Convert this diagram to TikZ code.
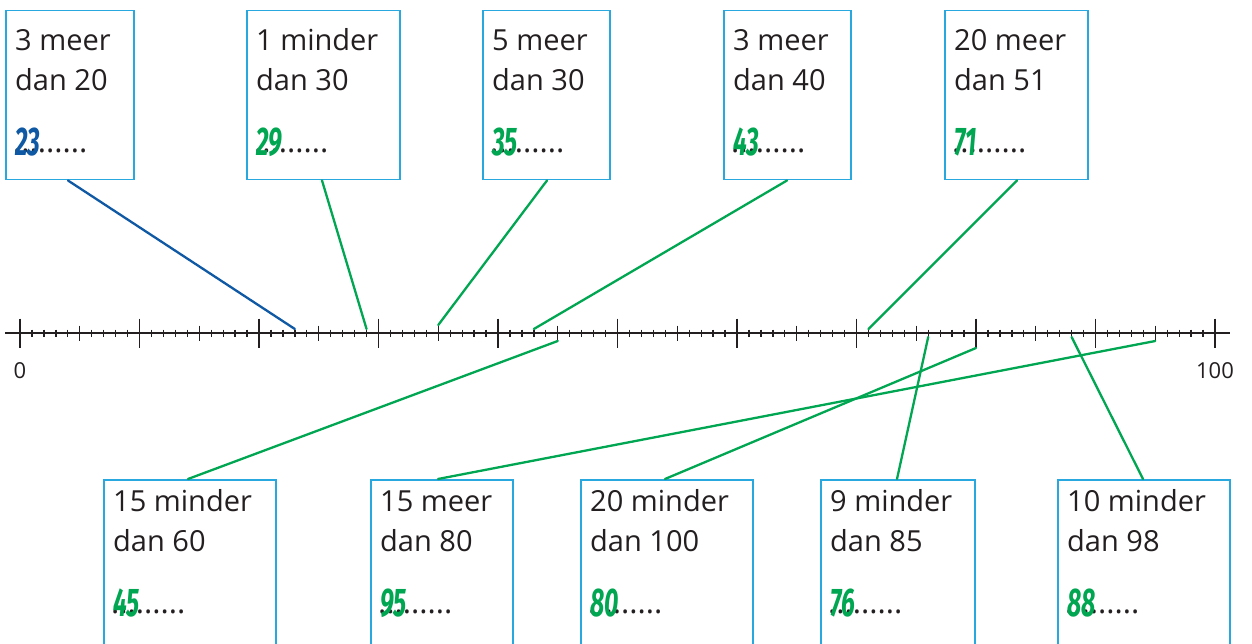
\documentclass[tikz,border=0pt]{standalone}
\usepackage{fontspec}
\setmainfont{Open Sans}
\newfontfamily\handfont{Fira Sans}
\usetikzlibrary{calc}
\definecolor{boxcol}{RGB}{41,168,224}
\definecolor{ansgreen}{RGB}{0,166,81}
\definecolor{ansblue}{RGB}{14,88,164}
\definecolor{txt}{RGB}{35,31,32}
\tikzset{
  qb/.style={draw=boxcol, line width=1.5pt, fill=white, inner sep=0pt},
  qt/.style={inner sep=0pt, text=txt, font=\fontsize{29}{34}\selectfont},
  qdots/.style={inner sep=0pt, text=txt, font=\fontsize{31}{34}\selectfont},
  qans/.style={inner sep=0pt, font=\handfont\bfseries\itshape\fontsize{40}{44}\selectfont},
  axis/.style={draw=txt, line width=1.5pt},
  tick/.style={draw=txt, line width=1.3pt},
  conn/.style={line width=2.3pt, line cap=round},
  lbl/.style={inner sep=0pt, text=txt, font=\fontsize{22}{26}\selectfont}
}
\newcommand\qbox[9]{%
  \node[qb, minimum width=#3, minimum height=#4, anchor=north west] (#1) at #2 {};
  \node[qt, anchor=base west] (#1a) at ([shift={(10,#5)}]#1.north west) {#6};
  \node[qt, anchor=base west] (#1b) at ([shift={(10,{#5+40})}]#1.north west) {#7};
  \node[qdots, anchor=base west] (#1d) at ([shift={(8,{#5+102})}]#1.north west) {.........};
  \node[qans, text=#9, anchor=base west] (#1n) at ([shift={(10,{#5+105})}]#1.north west) {\scalebox{0.62}[1]{#8}};
}
\begin{document}
\begin{tikzpicture}[x=1pt,y=-1pt]
\useasboundingbox (0,0) rectangle (1252,644);
\clip (0,0) rectangle (1252,644);
% number line
\coordinate (axL) at (5,333);
\coordinate (axR) at (1230,333);
\draw[axis] (axL) -- (axR);
\foreach \i in {0,...,100} {\draw[tick] ({20+\i*11.95},329.5) -- ({20+\i*11.95},336.5);}
\foreach \i in {5,15,...,95} {\draw[tick] ({20+\i*11.95},325.5) -- ({20+\i*11.95},341);}
\foreach \i in {0,10,...,100} {\draw[tick] ({20+\i*11.95},318.5) -- ({20+\i*11.95},348);}
\node[lbl] (l0) at (20,371) {0};
\node[lbl] (l100) at (1215,371) {100};
% tick end points
\coordinate (p23) at ({20+23*11.95},329);
\coordinate (p29) at ({20+29*11.95},329);
\coordinate (p35) at ({20+35*11.95},325);
\coordinate (p43) at ({20+43*11.95},329);
\coordinate (p71) at ({20+71*11.95},329);
\coordinate (p45) at ({20+45*11.95},341);
\coordinate (p95) at ({20+95*11.95},341);
\coordinate (p80) at ({20+80*11.95},348);
\coordinate (p76) at ({20+76*11.95},337);
\coordinate (p88) at ({20+88*11.95},337);
% top boxes
\qbox{A}{(5,10)}{128}{169}{41}{3 meer}{dan 20}{23}{ansblue}
\qbox{B}{(246,10)}{153}{169}{41}{1 minder}{dan 30}{29}{ansgreen}
\qbox{C}{(482,10)}{127}{169}{41}{5 meer}{dan 30}{35}{ansgreen}
\qbox{D}{(723,10)}{127}{169}{41}{3 meer}{dan 40}{43}{ansgreen}
\qbox{E}{(944,10)}{143}{169}{41}{20 meer}{dan 51}{71}{ansgreen}
% bottom boxes
\qbox{F}{(103,479)}{172}{190}{32}{15 minder}{dan 60}{45}{ansgreen}
\qbox{G}{(370,479)}{142}{190}{32}{15 meer}{dan 80}{95}{ansgreen}
\qbox{H}{(580,479)}{172}{190}{32}{20 minder}{dan 100}{80}{ansgreen}
\qbox{I}{(820,479)}{154}{190}{32}{9 minder}{dan 85}{76}{ansgreen}
\qbox{J}{(1057,479)}{172}{190}{32}{10 minder}{dan 98}{88}{ansgreen}
% connector anchors on boxes
\coordinate (cA) at ([xshift=63]A.south west);
\coordinate (cB) at ([xshift=76]B.south west);
\coordinate (cC) at ([xshift=65]C.south west);
\coordinate (cD) at ([xshift=64]D.south west);
\coordinate (cE) at ([xshift=73]E.south west);
\coordinate (cF) at ([xshift=85]F.north west);
\coordinate (cG) at ([xshift=68]G.north west);
\coordinate (cH) at ([xshift=85]H.north west);
\coordinate (cI) at ([xshift=77]I.north west);
\coordinate (cJ) at ([xshift=86]J.north west);
% connectors
\draw[conn, ansblue] (cA) -- (p23);
\draw[conn, ansgreen] (cB) -- (p29);
\draw[conn, ansgreen] (cC) -- (p35);
\draw[conn, ansgreen] (cD) -- (p43);
\draw[conn, ansgreen] (cE) -- (p71);
\draw[conn, ansgreen] (cF) -- (p45);
\draw[conn, ansgreen] (cG) -- (p95);
\draw[conn, ansgreen] (cH) -- (p80);
\draw[conn, ansgreen] (cI) -- (p76);
\draw[conn, ansgreen] (cJ) -- (p88);
\end{tikzpicture}
\end{document}
